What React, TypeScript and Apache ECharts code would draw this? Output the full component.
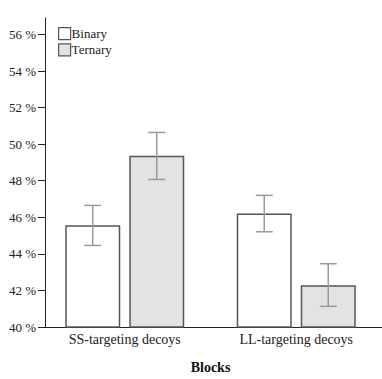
import React, { useEffect, useRef } from "react";
import * as echarts from "echarts";

const categories = ["SS-targeting decoys", "LL-targeting decoys"];
const binaryValues = [45.57, 46.21];
const ternaryValues = [49.36, 42.28];
const binaryErrLow = [44.46, 45.21];
const binaryErrHigh = [46.65, 47.2];
const ternaryErrLow = [48.07, 41.13];
const ternaryErrHigh = [50.64, 43.46];
const yTicks = [40, 42, 44, 46, 48, 50, 52, 54, 56];

const FONT = "Liberation Serif";
const BAR_W = 55;
const BAR_GAP = 9;

export default function App() {
  const ref = useRef<HTMLDivElement>(null);
  useEffect(() => {
    const chart = echarts.init(ref.current!, null, { renderer: "svg" });
    const offset = (BAR_W + BAR_GAP) / 2;
    const errSeries = (name: string, low: number[], high: number[], dir: number) => ({
      type: "custom",
      name: name + "-err",
      z: 10,
      data: categories.map((_, i) => [i, low[i], high[i]]),
      encode: { x: 0, y: [1, 2] },
      renderItem: (params: any, api: any) => {
        const lo = api.coord([api.value(0), api.value(1)]);
        const hi = api.coord([api.value(0), api.value(2)]);
        const x = lo[0] + dir * offset;
        const cap = 8.5;
        const style = { stroke: "#9a9a9a", lineWidth: 1.5 };
        return {
          type: "group",
          children: [
            { type: "line", shape: { x1: x, y1: lo[1], x2: x, y2: hi[1] }, style },
            { type: "line", shape: { x1: x - cap, y1: lo[1], x2: x + cap, y2: lo[1] }, style },
            { type: "line", shape: { x1: x - cap, y1: hi[1], x2: x + cap, y2: hi[1] }, style },
          ],
        };
      },
    });
    chart.setOption({
      animation: false,
      textStyle: { fontFamily: FONT },
      grid: { left: 39, top: 18, width: 349, height: 309 },
      legend: {
        orient: "vertical",
        left: 53,
        top: 22,
        itemWidth: 12,
        itemHeight: 12,
        itemGap: 3,
        icon: "rect",
        textStyle: { fontFamily: FONT, fontSize: 13, color: "#222", padding: [0, 0, 0, -4] },
        data: [
          { name: "Binary", itemStyle: { color: "#ffffff", borderColor: "#555", borderWidth: 1.2 } },
          { name: "Ternary", itemStyle: { color: "#e3e3e3", borderColor: "#555", borderWidth: 1.2 } },
        ],
      },
      xAxis: {
        type: "category",
        data: categories,
        name: "Blocks",
        nameLocation: "middle",
        nameGap: 33,
        nameTextStyle: { fontFamily: FONT, fontSize: 14, fontWeight: "bold", color: "#111" },
        axisLine: { lineStyle: { color: "#222", width: 1 } },
        axisTick: { alignWithLabel: true, length: 6, lineStyle: { color: "#222" } },
        axisLabel: { fontFamily: FONT, fontSize: 14, color: "#222", margin: 5 },
      },
      yAxis: {
        type: "value",
        min: 40,
        max: 56.9,
        offset: -6,
        splitLine: { show: false },
        axisLine: { show: true, lineStyle: { color: "#222", width: 1 } },
        axisTick: { show: true, length: 7, customValues: yTicks, lineStyle: { color: "#222" } },
        axisLabel: {
          customValues: yTicks,
          fontFamily: FONT,
          fontSize: 13,
          color: "#222",
          margin: 9,
          formatter: (v: number) => v + " %",
        },
      },
      series: [
        {
          name: "Binary",
          type: "bar",
          data: binaryValues,
          barWidth: BAR_W,
          barGap: (BAR_GAP / BAR_W) * 100 + "%",
          itemStyle: { color: "#ffffff", borderColor: "#555", borderWidth: 1.5 },
        },
        {
          name: "Ternary",
          type: "bar",
          data: ternaryValues,
          barWidth: BAR_W,
          itemStyle: { color: "#e3e3e3", borderColor: "#555", borderWidth: 1.5 },
        },
        errSeries("Binary", binaryErrLow, binaryErrHigh, -1),
        errSeries("Ternary", ternaryErrLow, ternaryErrHigh, 1),
      ],
    });
    return () => chart.dispose();
  }, []);
  return (
    <div
      ref={ref}
      style={{ position: "fixed", left: 0, top: 0, width: 382, height: 379, background: "#fff" }}
    />
  );
}
